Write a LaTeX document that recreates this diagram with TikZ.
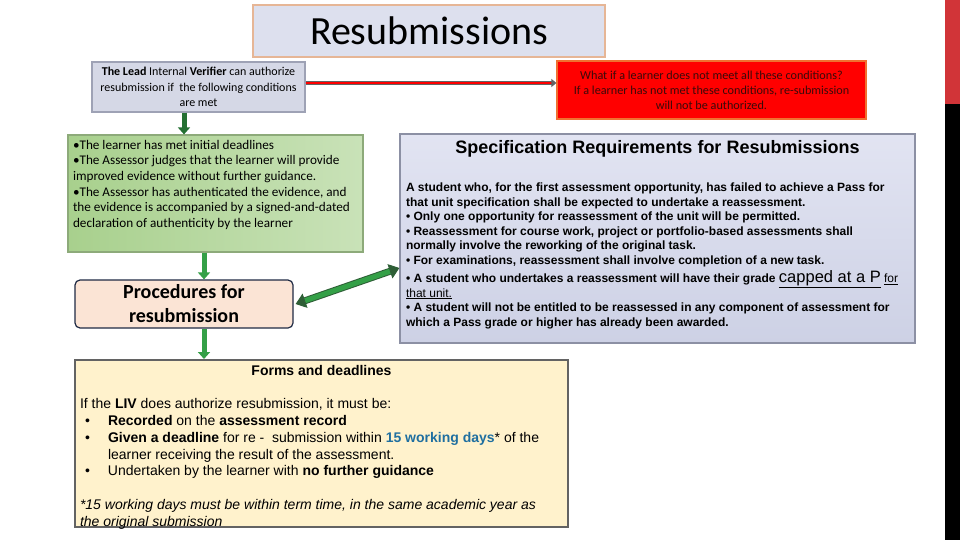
\documentclass[tikz,border=0pt]{standalone}
\usepackage{fontspec}
\setmainfont{Carlito}
\newfontfamily\arialfont{Liberation Sans}
\usetikzlibrary{arrows.meta,positioning}

\definecolor{titlefill}{HTML}{DDE0EE}
\definecolor{titledraw}{HTML}{E6B696}
\definecolor{livfill}{HTML}{D5D8E6}
\definecolor{livdraw}{HTML}{9EA2B5}
\definecolor{condleft}{HTML}{A8D08D}
\definecolor{condright}{HTML}{C9E2B8}
\definecolor{conddraw}{HTML}{8DAA7A}
\definecolor{procfill}{HTML}{FBE4D5}
\definecolor{procdraw}{HTML}{1F2A44}
\definecolor{formsfill}{HTML}{FFF2CC}
\definecolor{formsdraw}{HTML}{636363}
\definecolor{spectop}{HTML}{E2E4F2}
\definecolor{specbottom}{HTML}{CDD1E5}
\definecolor{specdraw}{HTML}{8C90A4}
\definecolor{warnfill}{HTML}{FF0000}
\definecolor{warndraw}{HTML}{F07030}
\definecolor{warntext}{HTML}{3A0A0A}
\definecolor{daysblue}{HTML}{1F6FA0}
\definecolor{arrowgreen}{HTML}{34A047}
\definecolor{arrowdark}{HTML}{2E5E36}
\definecolor{stripered}{HTML}{D13438}

\begin{document}
\begin{tikzpicture}[x=1pt, y=-1pt,
        box/.style={draw, line width=1.2pt, inner sep=0pt},
        titlebox/.style={box, fill=titlefill, draw=titledraw, minimum width=352pt, minimum height=52pt, font=\fontsize{40}{42}\selectfont},
        livbox/.style={box, fill=livfill, draw=livdraw, minimum width=213pt, minimum height=50pt, align=center, font=\fontsize{12}{15.5}\selectfont},
        warnbox/.style={box, fill=warnfill, draw=warndraw, minimum width=309pt, minimum height=58pt, align=center, text=warntext, font=\fontsize{12.2}{15}\selectfont},
        condbox/.style={box, left color=condleft, right color=condright, draw=conddraw, minimum width=295pt, minimum height=117pt, inner sep=5pt},
        procbox/.style={box, fill=procfill, draw=procdraw, rounded corners=5pt, minimum width=218pt, minimum height=48pt, align=center, font=\fontsize{20}{24}\selectfont\bfseries},
        specbox/.style={box, top color=spectop, bottom color=specbottom, draw=specdraw, minimum width=515pt, minimum height=209pt, inner sep=6pt},
        formsbox/.style={box, fill=formsfill, draw=formsdraw, line width=2pt, minimum width=493pt, minimum height=167pt, inner sep=5pt},
        downarrow/.style={draw=arrowgreen, line width=5pt, -{Triangle[width=12pt,length=7pt]}},
        twoway/.style={draw=arrowdark, double=arrowgreen, double distance=5pt, line width=1pt, {Triangle[width=15pt,length=10pt]}-{Triangle[width=15pt,length=10pt]}},
        redline/.style={draw=formsdraw, double=warnfill, double distance=1.2pt, line width=1.1pt, -{Triangle[width=8pt,length=5pt]}}]
    \useasboundingbox (0,0) rectangle (960,540);

    % slide edge
    \fill[stripered] (945,0) rectangle (960,104);
    \fill[black] (945,104) rectangle (960,540);

    % heading and the two top boxes
    \node[titlebox] (title) at (429,31) {Resubmissions};
    \node[livbox] (liv) at (198.5,87) {\textbf{The Lead} Internal \textbf{Verifier} can authorize\\resubmission if\ \ the following conditions\\are met};
    \node[warnbox] (warn) at (711.5,90) {What if a learner does not meet all these conditions?\\If a learner has not met these conditions, re-submission\\will not be authorized.};

    % conditions and procedures
    \node[condbox] (cond) at (215.5,193.5) {\parbox[c][107pt][t]{285pt}{\fontsize{13.2}{15.7}\selectfont\raggedright
        •The learner has met initial deadlines\\
        •The Assessor judges that the learner will provide\\
        improved evidence without further guidance.\\
        •The Assessor has authenticated the evidence, and\\
        the evidence is accompanied by a signed-and-dated\\
        declaration of authenticity by the learner}};
    \node[procbox] (proc) at (184,304) {Procedures for\\resubmission};

    % specification requirements
    \node[specbox] (spec) at (657.5,238.5) {\parbox[c][197pt][t]{503pt}{\arialfont
        {\centering\fontsize{18}{20}\selectfont\bfseries Specification Requirements for Resubmissions\par}
        \vspace{24pt}
        {\raggedright\fontsize{12}{14.5}\selectfont\bfseries
        A student who, for the first assessment opportunity, has failed to achieve a Pass for\\
        that unit specification shall be expected to undertake a reassessment.\\
        • Only one opportunity for reassessment of the unit will be permitted.\\
        • Reassessment for course work, project or portfolio-based assessments shall\\
        normally involve the reworking of the original task.\\
        • For examinations, reassessment shall involve completion of a new task.\\[4pt]
        • A student who undertakes a reassessment will have their grade \underline{\mdseries\fontsize{16.5}{14.5}\selectfont capped at a P} \underline{\mdseries for}\\
        \underline{\mdseries that unit.}\\
        • A student will not be entitled to be reassessed in any component of assessment for\\
        which a Pass grade or higher has already been awarded.\par}}};

    % forms and deadlines
    \node[formsbox] (forms) at (321.5,443.5) {\parbox[c][157pt][t]{483pt}{\arialfont\fontsize{14}{16.8}\selectfont
        {\centering\bfseries Forms and deadlines\par}
        \vspace{16.8pt}
        {\raggedright
        If the \textbf{LIV} does authorize resubmission, it must be:\\
        \makebox[28pt][l]{\hspace{5pt}•}\textbf{Recorded} on the \textbf{assessment record}\\
        \makebox[28pt][l]{\hspace{5pt}•}\textbf{Given a deadline} for re -\ \ submission within \textcolor{daysblue}{\textbf{15 working days}}* of the\\
        \hspace*{28pt}learner receiving the result of the assessment.\\
        \makebox[28pt][l]{\hspace{5pt}•}Undertaken by the learner with \textbf{no further guidance}\\[16.8pt]
        \textit{*15 working days must be within term time, in the same academic year as}\\
        \textit{the original submission}\par}}};

    % connectors
    \draw[downarrow, draw=arrowgreen!70!black] ([xshift=-14.5pt]liv.south) -- ([xshift=-31.5pt]cond.north);
    \draw[downarrow] ([xshift=-11.5pt]cond.south) -- ([xshift=20pt]proc.north);
    \draw[downarrow] ([xshift=20pt]proc.south) -- ([xshift=-117.5pt]forms.north);
    \draw[redline] ([yshift=4pt]liv.east) -- ([yshift=7pt]warn.west);
    \draw[twoway] ([xshift=2pt]proc.east) -- ([yshift=-29.5pt]spec.west);
\end{tikzpicture}
\end{document}
